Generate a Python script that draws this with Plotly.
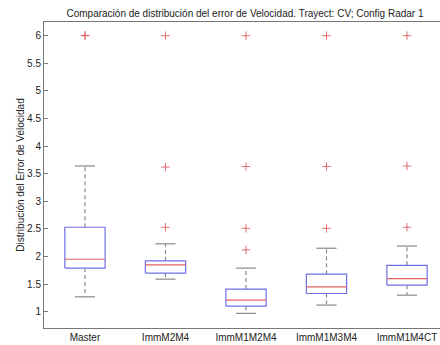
import plotly.graph_objects as go

# Velocity-error distribution per tracker configuration (box statistics)
categories = ["Master", "ImmM2M4", "ImmM1M2M4", "ImmM1M3M4", "ImmM1M4CT"]
q1 = [1.79, 1.70, 1.10, 1.33, 1.48]
medians = [1.95, 1.85, 1.21, 1.45, 1.60]
q3 = [2.53, 1.92, 1.41, 1.68, 1.84]
lower_whisker = [1.27, 1.59, 0.97, 1.12, 1.30]
upper_whisker = [3.64, 2.23, 1.79, 2.15, 2.19]
outliers = [
    [6.0, 6.005],
    [2.53, 3.62, 6.0],
    [2.12, 2.51, 3.63, 6.0],
    [2.51, 3.63, 6.0],
    [2.53, 3.64, 6.0],
]
y_ticks = [1, 1.5, 2, 2.5, 3, 3.5, 4, 4.5, 5, 5.5, 6]

BOX_HALF = 0.25
CAP_HALF = 0.125
BLUE = "#6f6fe6"
RED = "#e06060"
GRAY = "#8a8a8a"

positions = list(range(1, len(categories) + 1))

box_x, box_y = [], []
med_x, med_y = [], []
wh_x, wh_y = [], []
cap_x, cap_y = [], []
out_x, out_y = [], []

for i, p in enumerate(positions):
    l, r = p - BOX_HALF, p + BOX_HALF
    box_x += [l, r, r, l, l, None]
    box_y += [q1[i], q1[i], q3[i], q3[i], q1[i], None]
    med_x += [l, r, None]
    med_y += [medians[i], medians[i], None]
    wh_x += [p, p, None, p, p, None]
    wh_y += [q3[i], upper_whisker[i], None, q1[i], lower_whisker[i], None]
    for v in (upper_whisker[i], lower_whisker[i]):
        cap_x += [p - CAP_HALF, p + CAP_HALF, None]
        cap_y += [v, v, None]
    for v in outliers[i]:
        out_x.append(p)
        out_y.append(v)

fig = go.Figure()
fig.add_trace(go.Scatter(x=wh_x, y=wh_y, mode="lines",
                         line=dict(color=GRAY, width=1.2, dash="4px,3px"),
                         hoverinfo="skip"))
fig.add_trace(go.Scatter(x=cap_x, y=cap_y, mode="lines",
                         line=dict(color=GRAY, width=1.2), hoverinfo="skip"))
fig.add_trace(go.Scatter(x=box_x, y=box_y, mode="lines",
                         line=dict(color=BLUE, width=1.2)))
fig.add_trace(go.Scatter(x=med_x, y=med_y, mode="lines",
                         line=dict(color=RED, width=1.2)))
fig.add_trace(go.Scatter(x=out_x, y=out_y, mode="markers",
                         marker=dict(symbol="cross-thin", size=6,
                                     line=dict(width=0.9, color=RED))))

fig.update_layout(
    width=440, height=345,
    margin=dict(l=44, r=0, t=22, b=17),
    paper_bgcolor="white", plot_bgcolor="white",
    showlegend=False,
    font=dict(family="Liberation Sans, Arial, sans-serif", size=10, color="#222"),
    title=dict(
        text="Comparación de distribución del error de Velocidad. Trayect: CV; Config Radar 1",
        font=dict(size=10, color="#222"),
        xref="container", x=245 / 440, xanchor="center",
        yref="container", y=1 - 13 / 345, yanchor="middle",
    ),
    xaxis=dict(
        range=[0.491, 5.41],
        tickvals=positions, ticktext=categories,
        showgrid=False, zeroline=False,
        showline=True, linecolor="#777", linewidth=1, mirror=True,
        ticks="", ticklabelstandoff=0,
    ),
    yaxis=dict(
        range=[0.705, 6.248],
        tickvals=y_ticks,
        ticktext=[f"{t:g}" for t in y_ticks],
        showgrid=False, zeroline=False,
        showline=True, linecolor="#777", linewidth=1,
        ticks="inside", ticklen=4, tickcolor="#777",
        title=dict(text="Distribución del Error de Velocidad",
                   font=dict(size=10, color="#222"), standoff=0),
    ),
)

fig.write_html("out.html")
